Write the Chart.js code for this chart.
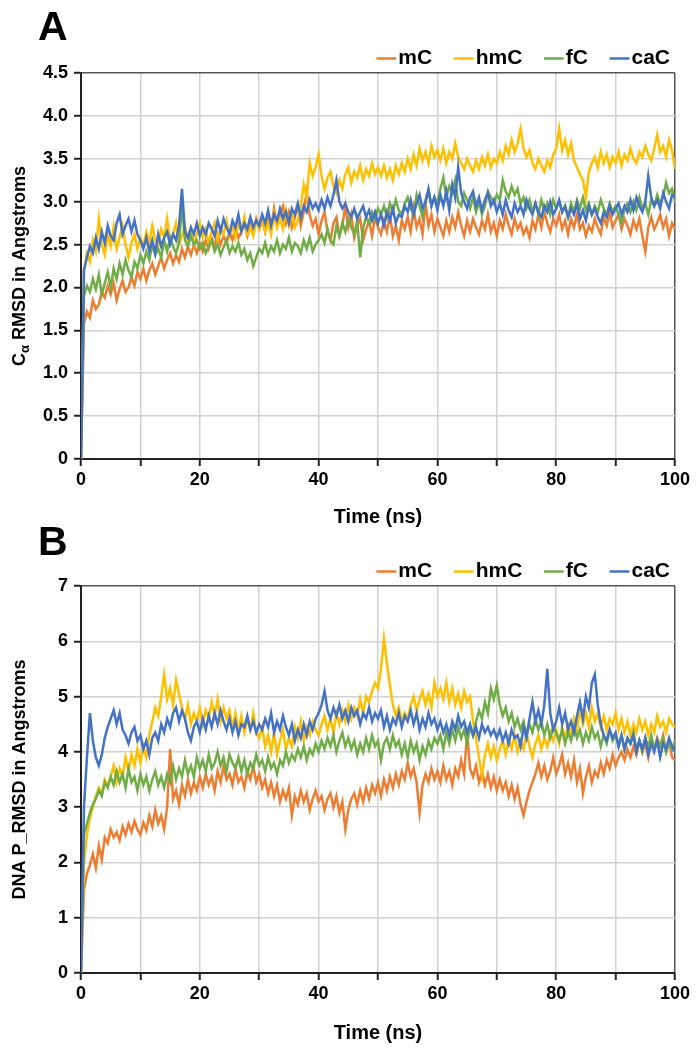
<!DOCTYPE html>
<html>
<head>
<meta charset="utf-8">
<script src="https://cdn.jsdelivr.net/npm/chart.js@4.4.1/dist/chart.umd.min.js"></script>
<style>
  body { margin: 0; background: #fff; }
  #page { position: relative; width: 700px; height: 1050px; }
  .panel { position: absolute; left: 0; }
  .letter { position: absolute; left: 38px; font-family: "Liberation Sans", Arial, sans-serif; font-weight: bold; font-size: 41px; color: #000; }
</style>
</head>
<body>
<div id="page">
  <div class="panel" style="top:0"><canvas id="chartA" width="700" height="530"></canvas></div>
  <div class="panel" style="top:513px"><canvas id="chartB" width="700" height="537"></canvas></div>
  <div class="letter" style="top:3px">A</div>
  <div class="letter" style="top:518px">B</div>
</div>
<script>
// one frame every 0.5 ns, 0 .. 100 ns
const STEP_NS = 0.5;
const timeNs = Array.from({ length: 201 }, (_, i) => i * STEP_NS);

const seriesNames = ["mC", "hmC", "fC", "caC"];
const seriesColors = ["#ED7D31", "#FFC000", "#70AD47", "#4472C4"];

// A: C-alpha RMSD (one row = 10 ns)
const mC_A = [0,
  1.58, 1.72, 1.65, 1.85, 1.75,  1.80, 1.95, 1.88, 2.02, 1.92,  2.05, 1.85, 1.98, 2.08, 1.95,  2.00, 2.12, 2.02, 2.18, 2.10,
  2.22, 2.08, 2.20, 2.28, 2.15,  2.25, 2.35, 2.22, 2.32, 2.40,  2.28, 2.38, 2.30, 2.45, 2.35,  2.48, 2.38, 2.50, 2.40, 2.52,
  2.42, 2.55, 2.45, 2.58, 2.48,  2.62, 2.50, 2.60, 2.52, 2.65,  2.55, 2.70, 2.58, 2.65, 2.75,  2.60, 2.72, 2.62, 2.80, 2.68,
  2.78, 2.65, 2.85, 2.70, 2.92,  2.72, 2.85, 2.95, 2.75, 2.88,  2.70, 2.82, 2.95, 2.72, 2.88,  3.12, 2.85, 2.72, 2.80, 2.62,
  2.78, 2.88, 2.65, 2.55, 2.75,  2.82, 2.60, 2.72, 2.95, 2.70,  2.85, 2.58, 2.72, 2.80, 2.55,  2.68, 2.78, 2.60, 2.82, 2.70,
  2.62, 2.78, 2.65, 2.85, 2.60,  2.72, 2.55, 2.78, 2.68, 2.82,  2.65, 2.92, 2.70, 2.80, 2.62,  2.98, 2.72, 2.85, 2.65, 2.80,
  2.70, 2.60, 2.78, 2.65, 2.82,  2.70, 2.88, 2.72, 2.60, 2.78,  2.65, 2.80, 2.70, 2.62, 2.78,  2.68, 2.85, 2.65, 2.75, 2.60,
  2.78, 2.68, 2.85, 2.72, 2.62,  2.80, 2.68, 2.75, 2.62, 2.70,  2.58, 2.78, 2.68, 2.85, 2.70,  2.88, 2.75, 2.65, 2.80, 2.72,
  2.85, 2.68, 2.78, 2.62, 2.80,  2.70, 2.85, 2.68, 2.75, 2.60,  2.72, 2.65, 2.80, 2.70, 2.62,  2.82, 2.72, 2.88, 2.70, 2.78,
  2.85, 2.68, 2.80, 2.72, 2.62,  2.78, 2.68, 2.80, 2.60, 2.42,  2.70, 2.82, 2.68, 2.75, 2.85,  2.70, 2.80, 2.60, 2.75, 2.68];
const hmC_A = [0,
  2.20, 2.40, 2.30, 2.55, 2.42,  2.80, 2.50, 2.38, 2.62, 2.48,  2.70, 2.45, 2.58, 2.72, 2.50,  2.35, 2.52, 2.62, 2.45, 2.58,
  2.48, 2.65, 2.52, 2.72, 2.55,  2.48, 2.68, 2.58, 2.80, 2.55,  2.62, 2.75, 2.50, 2.60, 2.72,  2.55, 2.68, 2.50, 2.62, 2.75,
  2.58, 2.68, 2.52, 2.65, 2.75,  2.55, 2.70, 2.62, 2.78, 2.60,  2.72, 2.58, 2.75, 2.65, 2.82,  2.62, 2.70, 2.60, 2.78, 2.68,
  2.80, 2.65, 2.75, 2.62, 2.85,  2.70, 2.80, 2.68, 2.90, 2.72,  2.85, 2.70, 2.78, 2.95, 3.20,  3.05, 3.45, 3.30, 3.40, 3.55,
  3.30, 3.15, 3.28, 3.35, 3.18,  3.10, 3.25, 3.15, 3.32, 3.40,  3.22, 3.35, 3.28, 3.42, 3.25,  3.38, 3.30, 3.45, 3.32, 3.40,
  3.30, 3.42, 3.28, 3.38, 3.25,  3.42, 3.32, 3.45, 3.35, 3.50,  3.38, 3.55, 3.42, 3.62, 3.48,  3.58, 3.45, 3.65, 3.52, 3.60,
  3.48, 3.62, 3.45, 3.58, 3.50,  3.68, 3.52, 3.45, 3.38, 3.50,  3.42, 3.35, 3.48, 3.38, 3.52,  3.42, 3.55, 3.40, 3.50, 3.45,
  3.58, 3.48, 3.65, 3.55, 3.72,  3.58, 3.68, 3.85, 3.62, 3.52,  3.60, 3.45, 3.38, 3.50, 3.42,  3.35, 3.48, 3.40, 3.55, 3.62,
  3.85, 3.60, 3.72, 3.55, 3.68,  3.48, 3.40, 3.32, 3.25, 3.05,  3.35, 3.45, 3.52, 3.40, 3.58,  3.45, 3.55, 3.40, 3.52, 3.45,
  3.58, 3.42, 3.55, 3.48, 3.62,  3.50, 3.45, 3.58, 3.52, 3.65,  3.55, 3.48, 3.62, 3.78, 3.58,  3.65, 3.52, 3.72, 3.60, 3.38];
const fC_A = [0,
  1.90, 2.02, 1.95, 2.10, 1.98,  2.15, 1.92, 2.05, 2.18, 2.00,  2.22, 2.10, 2.28, 2.15, 2.32,  2.20, 2.12, 2.30, 2.22, 2.38,
  2.28, 2.42, 2.32, 2.50, 2.38,  2.45, 2.35, 2.55, 2.42, 2.58,  2.48, 2.40, 2.52, 2.95, 2.55,  2.48, 2.60, 2.50, 2.55, 2.45,
  2.52, 2.40, 2.48, 2.55, 2.42,  2.50, 2.38, 2.47, 2.55, 2.40,  2.48, 2.42, 2.52, 2.38, 2.45,  2.32, 2.40, 2.25, 2.35, 2.45,
  2.40, 2.52, 2.38, 2.48, 2.42,  2.55, 2.40, 2.50, 2.45, 2.58,  2.42, 2.52, 2.48, 2.40, 2.55,  2.45, 2.58, 2.42, 2.50, 2.55,
  2.62, 2.52, 2.68, 2.55, 2.50,  2.72, 2.60, 2.75, 2.65, 2.80,  2.70, 2.62, 2.78, 2.35, 2.70,  2.82, 2.75, 2.88, 2.80, 2.92,
  2.85, 2.95, 2.82, 2.98, 2.88,  3.02, 2.90, 2.85, 2.98, 3.05,  2.92, 2.85, 3.08, 2.95, 2.82,  3.00, 3.12, 2.95, 3.05, 2.98,
  3.15, 3.28, 3.05, 3.18, 3.10,  3.25, 3.00, 2.95, 3.10, 3.02,  2.92, 3.05, 2.88, 3.00, 2.85,  2.95, 3.12, 3.05, 2.98, 3.08,
  3.02, 3.25, 3.12, 3.05, 3.18,  3.08, 3.15, 2.98, 3.05, 2.92,  3.02, 2.88, 2.98, 2.85, 3.02,  2.90, 2.98, 2.85, 3.02, 2.92,
  3.00, 2.88, 2.95, 2.82, 2.98,  2.88, 3.02, 2.92, 3.05, 2.90,  2.98, 2.85, 2.95, 2.88, 3.02,  2.92, 2.85, 2.98, 2.88, 2.95,
  2.85, 2.75, 2.92, 2.98, 2.88,  3.00, 2.90, 3.05, 2.92, 2.98,  2.85, 3.02, 2.95, 3.08, 2.98,  3.05, 3.22, 3.10, 3.15, 3.00];
const caC_A = [0,
  2.20, 2.35, 2.48, 2.40, 2.58,  2.45, 2.65, 2.52, 2.72, 2.60,  2.55, 2.75, 2.85, 2.62, 2.72,  2.80, 2.65, 2.78, 2.62, 2.55,
  2.45, 2.58, 2.42, 2.55, 2.40,  2.62, 2.48, 2.58, 2.65, 2.50,  2.62, 2.55, 2.72, 3.15, 2.65,  2.58, 2.70, 2.62, 2.75, 2.60,
  2.70, 2.62, 2.75, 2.68, 2.60,  2.78, 2.65, 2.80, 2.70, 2.62,  2.78, 2.70, 2.85, 2.65, 2.75,  2.68, 2.82, 2.70, 2.78, 2.72,
  2.85, 2.75, 2.90, 2.72, 2.85,  2.78, 2.92, 2.80, 2.88, 2.75,  2.92, 2.85, 2.98, 2.82, 2.95,  2.88, 3.02, 2.92, 2.98, 2.90,
  3.02, 2.92, 3.05, 2.95, 3.08,  3.25, 3.00, 2.92, 2.98, 2.88,  2.82, 2.92, 2.80, 2.88, 2.95,  2.82, 2.90, 2.78, 2.88, 2.75,
  2.85, 2.72, 2.88, 2.78, 2.92,  2.75, 2.85, 2.82, 2.95, 2.88,  3.02, 2.85, 2.98, 3.08, 2.92,  3.00, 3.15, 2.95, 3.05, 2.90,
  3.08, 2.95, 3.12, 2.90, 3.20,  3.05, 3.40, 3.10, 3.00, 2.92,  3.05, 3.12, 2.95, 3.05, 2.90,  3.02, 3.10, 2.95, 3.02, 2.88,
  2.98, 2.85, 3.02, 2.90, 2.82,  2.98, 2.88, 2.95, 2.85, 3.02,  2.92, 2.85, 2.98, 2.88, 2.82,  2.95, 2.88, 3.00, 2.85, 2.92,
  3.02, 2.88, 2.95, 2.82, 2.92,  2.85, 2.98, 2.80, 2.90, 2.78,  2.95, 2.85, 2.92, 2.82, 2.75,  2.88, 2.82, 2.95, 2.85, 2.92,
  2.98, 2.85, 2.95, 2.88, 3.02,  2.90, 3.05, 2.95, 2.88, 3.00,  3.30, 3.05, 2.95, 3.02, 2.92,  3.10, 3.00, 2.92, 3.08, 3.05];

// B: DNA phosphate RMSD (one row = 10 ns)
const mC_B = [0,
  1.50, 1.80, 1.95, 2.15, 1.90,  2.30, 2.05, 2.45, 2.35, 2.60,  2.45, 2.55, 2.40, 2.65, 2.50,  2.70, 2.55, 2.75, 2.60, 2.50,
  2.72, 2.58, 2.85, 2.65, 2.95,  2.70, 2.85, 2.60, 3.00, 4.05,  3.15, 3.30, 3.05, 3.40, 3.20,  3.50, 3.25, 3.45, 3.30, 3.55,
  3.35, 3.60, 3.40, 3.55, 3.30,  3.65, 3.45, 3.75, 3.50, 3.60,  3.40, 3.70, 3.45, 3.55, 3.35,  3.65, 3.50, 3.75, 3.45, 3.60,
  3.35, 3.50, 3.25, 3.45, 3.20,  3.40, 3.10, 3.30, 3.15, 3.35,  2.85, 3.20, 3.05, 3.30, 3.10,  3.25, 2.95, 3.15, 3.30, 3.10,
  3.20, 2.95, 3.15, 3.25, 3.00,  3.20, 2.90, 3.10, 2.60, 2.95,  3.15, 3.25, 3.05, 3.30, 3.10,  3.35, 3.15, 3.40, 3.25, 3.45,
  3.20, 3.50, 3.30, 3.55, 3.35,  3.60, 3.40, 3.65, 3.50, 3.80,  3.55, 3.70, 3.45, 2.90, 3.40,  3.60, 3.45, 3.70, 3.50, 3.65,
  3.45, 3.75, 3.50, 3.65, 3.40,  3.70, 3.55, 3.85, 3.60, 4.35,  3.70, 3.55, 3.75, 3.45, 3.65,  3.40, 3.60, 3.35, 3.55, 3.30,
  3.50, 3.30, 3.45, 3.20, 3.40,  3.15, 3.35, 3.05, 2.85, 3.10,  3.30, 3.45, 3.60, 3.80, 3.55,  3.75, 3.50, 3.65, 3.90, 3.60,
  3.75, 3.95, 3.60, 3.80, 3.55,  3.85, 3.45, 3.70, 3.25, 3.55,  3.75, 3.45, 3.65, 3.55, 3.80,  3.60, 3.85, 3.70, 3.95, 3.75,
  3.90, 4.00, 3.85, 4.05, 3.90,  4.10, 3.95, 4.20, 4.00, 4.15,  3.90, 4.20, 4.05, 4.25, 4.10,  4.30, 4.00, 4.20, 3.90, 3.85];
const hmC_B = [0,
  2.00, 2.50, 2.80, 3.00, 3.20,  3.35, 3.25, 3.50, 3.40, 3.55,  3.75, 3.45, 3.70, 3.55, 3.90,  3.65, 3.95, 3.75, 4.05, 3.80,
  4.10, 3.90, 4.30, 4.55, 4.80,  4.65, 5.00, 5.40, 4.95, 5.15,  4.85, 5.30, 5.05, 4.80, 4.60,  4.85, 4.50, 4.70, 4.55, 4.80,
  4.50, 4.75, 4.60, 4.90, 4.65,  4.95, 4.55, 4.80, 4.60, 4.75,  4.45, 4.70, 4.40, 4.65, 4.35,  4.60, 4.40, 4.70, 4.35, 4.25,
  4.45, 4.10, 4.30, 4.00, 4.35,  3.95, 4.20, 4.40, 4.05, 4.25,  4.10, 4.45, 4.25, 4.55, 4.20,  4.45, 4.30, 4.55, 4.40, 4.30,
  4.50, 4.65, 4.40, 4.60, 4.35,  4.70, 4.50, 4.75, 4.55, 4.85,  4.60, 4.80, 4.65, 4.95, 4.70,  5.00, 4.90, 5.10, 5.25, 5.15,
  5.50, 6.05, 5.60, 5.20, 4.85,  4.65, 4.80, 4.55, 4.70, 4.60,  4.85, 5.00, 4.75, 4.95, 5.10,  4.85, 5.05, 4.80, 5.25, 5.00,
  5.15, 4.95, 5.25, 4.90, 5.15,  4.85, 5.05, 4.80, 5.10, 4.90,  5.00, 4.55, 4.25, 3.90, 3.55,  3.95, 4.15, 3.90, 4.10, 3.85,
  4.05, 4.20, 3.95, 4.25, 4.05,  4.30, 4.00, 4.20, 4.05, 4.35,  4.10, 3.90, 4.15, 4.30, 4.05,  4.25, 4.10, 4.35, 4.20, 4.40,
  4.15, 4.45, 4.25, 4.50, 4.30,  4.60, 4.40, 4.75, 4.50, 4.70,  4.45, 4.80, 4.55, 4.70, 4.45,  4.65, 4.40, 4.60, 4.50, 4.70,
  4.40, 4.60, 4.35, 4.55, 4.30,  4.50, 4.35, 4.60, 4.40, 4.55,  4.30, 4.50, 4.35, 4.65, 4.45,  4.55, 4.35, 4.60, 4.50, 4.45];
const fC_B = [0,
  2.50, 2.70, 2.90, 3.05, 3.15,  3.30, 3.20, 3.45, 3.35, 3.55,  3.40, 3.65, 3.45, 3.60, 3.35,  3.70, 3.45, 3.55, 3.30, 3.60,
  3.40, 3.55, 3.30, 3.50, 3.65,  3.40, 3.55, 3.35, 3.60, 3.45,  3.75, 3.50, 3.70, 3.55, 3.85,  3.60, 3.75, 3.55, 3.90, 3.70,
  3.85, 3.65, 3.95, 3.70, 3.80,  4.00, 3.75, 3.90, 3.65, 3.95,  3.80, 3.70, 3.90, 3.65, 3.85,  3.60, 3.80, 3.70, 3.95, 3.75,
  3.85, 3.65, 3.90, 3.70, 3.80,  3.60, 3.85, 3.75, 4.00, 3.80,  3.95, 3.85, 4.05, 3.90, 4.10,  3.85, 4.05, 3.95, 4.15, 4.00,
  4.20, 4.05, 4.25, 4.10, 4.30,  4.00, 4.20, 4.35, 4.10, 4.25,  4.05, 4.20, 3.95, 4.15, 4.00,  4.25, 4.05, 4.30, 4.10, 4.20,
  3.85, 4.15, 4.25, 4.05, 4.30,  4.10, 4.20, 3.95, 4.15, 3.90,  4.20, 4.00, 4.15, 3.85, 4.10,  3.95, 4.20, 4.05, 4.25, 4.15,
  4.30, 4.05, 4.35, 4.15, 4.40,  4.20, 4.45, 4.25, 4.40, 4.15,  4.45, 4.30, 4.55, 4.75, 4.60,  4.90, 4.70, 5.15, 4.95, 5.20,
  4.85, 4.65, 4.80, 4.55, 4.70,  4.45, 4.60, 4.40, 4.55, 4.30,  4.50, 4.35, 4.60, 4.40, 4.55,  4.30, 4.50, 4.25, 4.45, 4.35,
  4.20, 4.40, 4.15, 4.35, 4.20,  4.45, 4.25, 4.40, 4.15, 4.35,  4.20, 4.45, 4.25, 4.35, 4.10,  4.30, 4.15, 4.40, 4.20, 4.30,
  4.10, 4.30, 4.05, 4.25, 4.15,  4.35, 4.05, 4.20, 4.00, 4.25,  4.10, 4.30, 4.05, 4.20, 4.10,  4.25, 4.00, 4.15, 4.05, 4.20];
const caC_B = [0,
  3.00, 3.90, 4.70, 4.20, 3.90,  3.75, 3.95, 4.25, 4.45, 4.60,  4.75, 4.50, 4.70, 4.40, 4.30,  4.15, 4.35, 4.45, 4.20, 4.30,
  4.05, 4.20, 3.95, 4.25, 4.35,  4.20, 4.50, 4.35, 4.60, 4.45,  4.70, 4.80, 4.55, 4.75, 4.60,  4.35, 4.20, 4.45, 4.55, 4.35,
  4.60, 4.40, 4.65, 4.45, 4.70,  4.50, 4.75, 4.55, 4.40, 4.60,  4.35, 4.55, 4.30, 4.50, 4.45,  4.65, 4.40, 4.55, 4.35, 4.50,
  4.40, 4.60, 4.45, 4.70, 4.35,  4.55, 4.40, 4.65, 4.45, 4.30,  4.50, 4.20, 4.40, 4.25, 4.50,  4.30, 4.55, 4.40, 4.60, 4.70,
  4.85, 5.10, 4.75, 4.60, 4.80,  4.65, 4.85, 4.60, 4.75, 4.55,  4.80, 4.65, 4.75, 4.50, 4.70,  4.60, 4.80, 4.55, 4.70, 4.60,
  4.75, 4.45, 4.65, 4.40, 4.60,  4.50, 4.70, 4.45, 4.65, 4.55,  4.75, 4.50, 4.70, 4.40, 4.60,  4.45, 4.70, 4.50, 4.60, 4.40,
  4.55, 4.35, 4.50, 4.30, 4.55,  4.40, 4.65, 4.45, 4.55, 4.35,  4.50, 4.30, 4.45, 4.25, 4.50,  4.35, 4.45, 4.30, 4.40, 4.25,
  4.40, 4.20, 4.35, 4.15, 4.40,  4.25, 4.30, 4.10, 4.45, 4.25,  4.60, 4.90, 4.55, 4.75, 4.50,  4.85, 5.50, 4.70, 4.40, 4.55,
  4.80, 4.50, 4.70, 4.40, 4.55,  4.35, 4.65, 4.90, 4.60, 5.00,  4.80, 5.25, 5.40, 4.85, 4.50,  4.30, 4.20, 4.40, 4.25, 4.35,
  4.10, 4.30, 4.05, 4.25, 4.15,  4.30, 4.00, 4.20, 4.05, 4.25,  3.95, 4.15, 4.00, 4.20, 3.90,  4.15, 4.05, 4.25, 4.10, 4.00];

const FONT = "'Liberation Sans', Arial, sans-serif";

function makeDatasets(lists) {
  // caC sits on top like in the original, so the order goes backwards
  return lists.map((vals, i) => ({
    label: seriesNames[i],
    data: timeNs.map((t, k) => ({ x: t, y: vals[k] })),
    borderColor: seriesColors[i],
    backgroundColor: seriesColors[i],
    borderWidth: 2.5,
    pointRadius: 0,
    tension: 0,
    order: lists.length - i
  }));
}

function gridColor(max) {
  return ctx => (ctx.tick && ctx.tick.value === max) ? "#555" : "#d2d2d2";
}

// legend sits a bit closer to the plot than chart.js puts it
const tightLegend = {
  id: "tightLegend",
  afterInit(chart) {
    const lg = chart.legend;
    const fit = lg.fit;
    lg.fit = function () { fit.call(this); this.height -= 6; };
  }
};

// y title with a subscript alpha (panel A)
const alphaTitle = {
  id: "alphaTitle",
  afterDraw(chart) {
    const { ctx, chartArea } = chart;
    const big = "bold 18px " + FONT, small = "bold 13px " + FONT;
    const rest = " RMSD in Angstroms";
    ctx.save();
    ctx.font = big;
    const wC = ctx.measureText("C").width, wRest = ctx.measureText(rest).width;
    ctx.font = small;
    const wA = ctx.measureText("α").width;
    ctx.translate(20, (chartArea.top + chartArea.bottom) / 2);
    ctx.rotate(-Math.PI / 2);
    ctx.fillStyle = "#000";
    ctx.textBaseline = "middle";
    ctx.textAlign = "left";
    let x = -(wC + wA + wRest) / 2;
    ctx.font = big; ctx.fillText("C", x, 0); x += wC;
    ctx.font = small; ctx.fillText("α", x, 5); x += wA;
    ctx.font = big; ctx.fillText(rest, x, 0);
    ctx.restore();
  }
};

function makeChart(id, lists, yMax, yStep, yTitle, yFmt, xTitlePad, bottomPad, extra) {
  return new Chart(document.getElementById(id).getContext("2d"), {
    type: "line",
    data: { datasets: makeDatasets(lists) },
    plugins: [tightLegend].concat(extra),
    options: {
      responsive: false,
      animation: false,
      layout: { padding: { top: 18, right: 0, left: 0, bottom: bottomPad } },
      plugins: {
        tooltip: { enabled: false },
        legend: {
          position: "top",
          align: "end",
          labels: {
            usePointStyle: true,
            pointStyle: "line",
            boxWidth: 3,
            boxHeight: 14,
            padding: 30,
            color: "#000",
            font: { family: FONT, size: 21, weight: "bold" },
            sort: (a, b) => a.datasetIndex - b.datasetIndex
          }
        }
      },
      scales: {
        x: {
          type: "linear",
          min: 0, max: 100,
          ticks: {
            stepSize: 10,
            padding: 5,
            color: "#000",
            font: { family: FONT, size: 18, weight: "bold", lineHeight: 1 },
            callback: v => (v % 20 === 0 ? v : "")
          },
          grid: { color: gridColor(100), lineWidth: 1.5, tickColor: "#222", tickLength: 7, tickWidth: 2 },
          border: { color: "#222", width: 2 },
          title: { display: true, text: "Time (ns)", color: "#000", padding: { top: xTitlePad, bottom: 0 },
                   font: { family: FONT, size: 20, weight: "bold", lineHeight: 1 } }
        },
        y: {
          min: 0, max: yMax,
          afterFit: s => { s.width = 81; },
          ticks: {
            stepSize: yStep,
            padding: 6,
            color: "#000",
            font: { family: FONT, size: 18, weight: "bold" },
            callback: yFmt
          },
          grid: { color: gridColor(yMax), lineWidth: 1.5, tickColor: "#222", tickLength: 7, tickWidth: 2 },
          border: { color: "#222", width: 2 },
          title: { display: yTitle !== "", text: yTitle, color: "#000", padding: { top: 9, bottom: 0 },
                   font: { family: FONT, size: 18, weight: "bold" } }
        },
        // empty strip on the right so the plot ends at x = 675 while the legend runs to the edge
        yRight: {
          type: "linear",
          axis: "y",
          position: "right",
          afterFit: s => { s.width = 25; },
          ticks: { display: false },
          grid: { display: false },
          border: { display: false }
        }
      }
    }
  });
}

makeChart("chartA", [mC_A, hmC_A, fC_A, caC_A], 4.5, 0.5, "",
  v => (v === 0 ? "0" : v.toFixed(1)), 13, 3, [alphaTitle]);
makeChart("chartB", [mC_B, hmC_B, fC_B, caC_B], 7, 1, "DNA P_RMSD in Angstroms",
  v => v, 15, 7, []);
</script>
</body>
</html>
